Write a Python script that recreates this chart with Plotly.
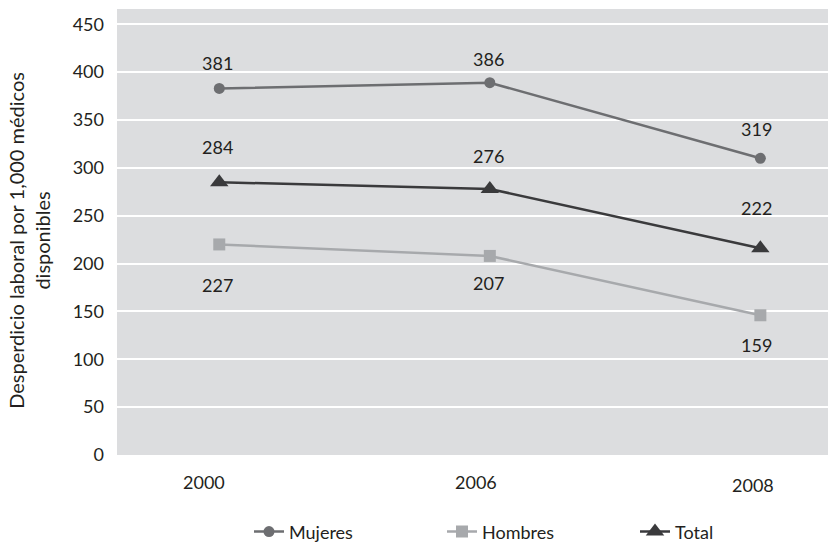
import plotly.graph_objects as go

years = ["2000", "2006", "2008"]
year_pos = [0, 1, 2]
mujeres = [383, 389, 310]
hombres = [220, 208, 146]
total = [285, 278, 216]
mujeres_labels = ["381", "386", "319"]
hombres_labels = ["227", "207", "159"]
total_labels = ["284", "276", "222"]
y_ticks = [0, 50, 100, 150, 200, 250, 300, 350, 400, 450]

FONT = "Lato, 'Open Sans', sans-serif"
TXT = "#231f20"
FS = 18

fig = go.Figure()
series = [
    ("Mujeres", mujeres, "#6d6e71", "circle", 11),
    ("Hombres", hombres, "#a7a9ac", "square", 12),
    ("Total", total, "#3a3a3c", "triangle-up", 16),
]
for name, vals, col, sym, sz in series:
    fig.add_trace(go.Scatter(
        x=year_pos, y=vals, name=name, mode="lines+markers",
        line=dict(color=col, width=2.5),
        marker=dict(symbol=sym, size=sz, color=col),
    ))

annotations = []
label_sets = [
    (mujeres, mujeres_labels, [25, 24, 29]),
    (total, total_labels, [35, 33, 40]),
    (hombres, hombres_labels, [-41, -27, -30]),
]
label_dx = [-2, -1, -4]
for vals, labs, shifts in label_sets:
    for i, (v, t) in enumerate(zip(vals, labs)):
        annotations.append(dict(
            x=year_pos[i], y=v, xref="x", yref="y", text=t, showarrow=False,
            yshift=shifts[i], xshift=label_dx[i],
            font=dict(family=FONT, size=FS, color=TXT),
        ))

tick_dx = [-15, -14, -7]
tick_dy = [-27, -27, -30]
for i, yr in enumerate(years):
    annotations.append(dict(
        x=year_pos[i], y=0, xref="x", yref="paper", text=yr, showarrow=False,
        xshift=tick_dx[i], yshift=tick_dy[i], yanchor="middle",
        font=dict(family=FONT, size=FS, color=TXT),
    ))

annotations.append(dict(
    x=-0.124, y=0.482, xref="paper", yref="paper",
    text="Desperdicio laboral por 1,000 médicos<br>disponibles",
    showarrow=False, textangle=-90, xanchor="center", yanchor="middle",
    font=dict(family=FONT, size=20, color=TXT),
))

fig.update_layout(
    width=828, height=545,
    margin=dict(l=117, r=0, t=9, b=90),
    paper_bgcolor="white", plot_bgcolor="#dcdddf",
    font=dict(family=FONT, size=FS, color=TXT),
    showlegend=True,
    legend=dict(orientation="h", xref="paper", x=0.194, xanchor="left",
                yref="container", y=0.024, yanchor="middle",
                font=dict(family=FONT, size=FS, color=TXT), itemwidth=30,
                entrywidth=148, entrywidthmode="pixels",
                tracegroupgap=0, traceorder="normal", bgcolor="rgba(0,0,0,0)"),
    annotations=annotations,
)
fig.update_xaxes(range=[-0.378, 2.25], showticklabels=False, showgrid=False,
                 zeroline=False, showline=False, tickvals=year_pos)
fig.update_yaxes(range=[0, 466], tickvals=y_ticks, showgrid=True, gridcolor="white",
                 gridwidth=2, zeroline=False, showline=False, ticklabelstandoff=12,
                 tickfont=dict(family=FONT, size=FS, color=TXT))

fig.write_html("out.html", config={"displayModeBar": False},
               post_script="document.body.style.margin='0';document.body.style.overflow='hidden';")
